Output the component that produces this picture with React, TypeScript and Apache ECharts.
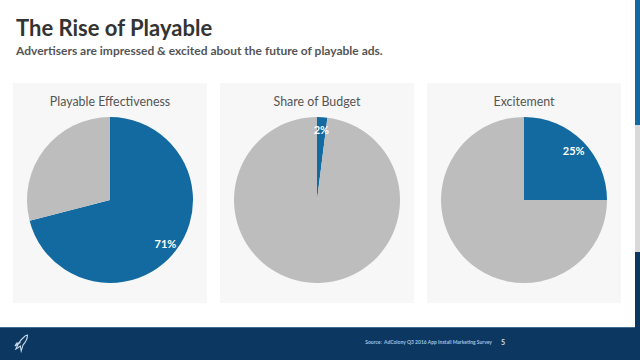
import React, { useEffect, useRef } from "react";
import * as echarts from "echarts";

const panelTitles = ["Playable Effectiveness", "Share of Budget", "Excitement"];
const sliceNames = ["Yes", "Other"];
const playableEffectiveness = [71, 29];
const shareOfBudget = [2, 98];
const excitement = [25, 75];
const seriesValues = [playableEffectiveness, shareOfBudget, excitement];

const BLUE = "#136aa1";
const GRAY = "#bdbdbd";
const NAVY = "#0c3761";
const FONT = "Lato, 'Open Sans', sans-serif";

export default function App() {
  const ref = useRef<HTMLDivElement>(null);
  useEffect(() => {
    if (!ref.current) return;
    const chart = echarts.init(ref.current, null, { renderer: "svg" });
    const centersX = [110, 317, 524];
    const panelX = [13, 220, 427];
    const panelW = 194;
    const cy = 200;
    const r = 83;

    echarts.graphic.registerShape(
      "logo",
      echarts.graphic.extendPath(
        "M2 14 C4 10 6 6 10 3 C12 1 14 0 15 0 C15 3 13 7 10 10 L8 16 L7 11 L4 13 Z M6 8 L3 8 L1 11 Z",
        {}
      )
    );

    const series: any[] = [];
    seriesValues.forEach((vals, i) => {
      const data = vals.map((v, j) => ({
        name: sliceNames[j],
        value: v,
        itemStyle: { color: j === 0 ? BLUE : GRAY },
      }));
      series.push({
        type: "pie",
        center: [centersX[i], cy],
        radius: [0, r],
        startAngle: 90,
        clockwise: true,
        silent: true,
        label: { show: false },
        labelLine: { show: false },
        itemStyle: { borderWidth: 0 },
        data,
      });
      series.push({
        type: "pie",
        center: [centersX[i], cy],
        radius: [r * 0.62, r],
        startAngle: 90,
        clockwise: true,
        silent: true,
        z: 5,
        itemStyle: { color: "rgba(0,0,0,0)", borderWidth: 0 },
        labelLine: { show: false },
        data: vals.map((v, j) => ({
          name: sliceNames[j],
          value: v,
          label: {
            show: j === 0,
            position: "inside",
            formatter: "{c}%",
            color: "#ffffff",
            fontSize: 11,
            fontWeight: "bold",
            fontFamily: FONT,
          },
        })),
      });
    });

    const graphic: any[] = [
      { type: "rect", shape: { x: 0, y: 0, width: 640, height: 360 }, style: { fill: "#ffffff" }, z: -10 },
      ...panelX.map((x) => ({
        type: "rect",
        shape: { x, y: 83, width: panelW, height: 220 },
        style: { fill: "#f7f7f7" },
        z: -5,
      })),
      ...panelTitles.map((t, i) => ({
        type: "text",
        x: centersX[i],
        y: 101,
        style: {
          text: t,
          fill: "#555555",
          font: `12.4px ${FONT}`,
          textAlign: "center",
          textVerticalAlign: "middle",
        },
      })),
      {
        type: "text",
        x: 16,
        y: 27,
        style: {
          text: "The Rise of Playable",
          fill: "#333333",
          font: `bold 22px ${FONT}`,
          textVerticalAlign: "middle",
        },
      },
      {
        type: "text",
        x: 16,
        y: 50,
        style: {
          text: "Advertisers are impressed & excited about the future of playable ads.",
          fill: "#555555",
          font: `bold 12px ${FONT}`,
          textVerticalAlign: "middle",
        },
      },
      { type: "rect", shape: { x: 0, y: 327, width: 640, height: 33 }, style: { fill: NAVY }, z: -5 },
      { type: "rect", shape: { x: 0, y: 327, width: 635, height: 1 }, style: { fill: "#3f6a92" }, z: -4 },
      { type: "rect", shape: { x: 635, y: 0, width: 5, height: 125 }, style: { fill: BLUE }, z: -4 },
      { type: "rect", shape: { x: 635, y: 125, width: 5, height: 127 }, style: { fill: "#d9d9d9" }, z: -4 },
      { type: "rect", shape: { x: 635, y: 252, width: 5, height: 108 }, style: { fill: NAVY }, z: -4 },
      {
        type: "logo",
        x: 14,
        y: 335,
        scaleX: 0.9,
        scaleY: 1.0,
        style: { fill: "none", stroke: "#c9d9ea", lineWidth: 1.2 },
      },
      {
        type: "text",
        x: 492,
        y: 342,
        style: {
          text: "Source:  AdColony Q3 2016 App Install Marketing Survey",
          fill: "#9fc2e4",
          font: `bold 5px ${FONT}`,
          textAlign: "right",
          textVerticalAlign: "middle",
        },
      },
      {
        type: "text",
        x: 503,
        y: 342,
        style: {
          text: "5",
          fill: "#cfe0f0",
          font: `bold 7px ${FONT}`,
          textAlign: "center",
          textVerticalAlign: "middle",
        },
      },
    ];

    chart.setOption({
      animation: false,
      backgroundColor: "#ffffff",
      series,
      graphic,
    });
    return () => chart.dispose();
  }, []);
  return (
    <div
      ref={ref}
      style={{ position: "fixed", left: 0, top: 0, width: 640, height: 360 }}
    />
  );
}
